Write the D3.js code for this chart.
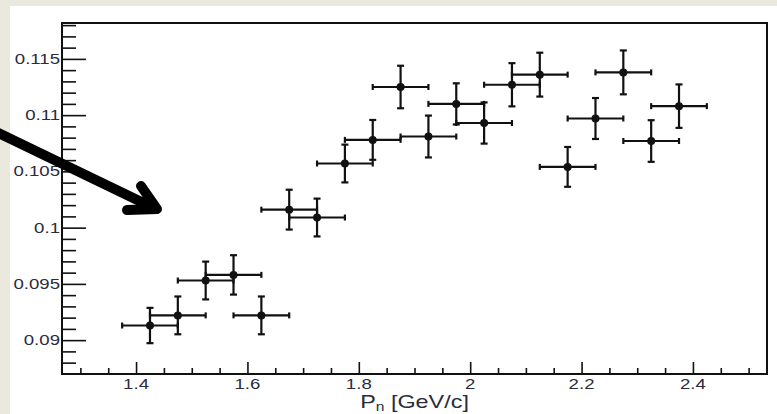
<!DOCTYPE html>
<html>
<head>
<meta charset="utf-8">
<script src="https://cdn.jsdelivr.net/npm/d3@7"></script>
<style>
  html, body { margin: 0; padding: 0; background: #ebe8de; }
  svg { display: block; }
</style>
</head>
<body>
<svg id="chart" width="777" height="414"></svg>
<script>
// Bin centres (GeV/c), half bin width, measured ratio and its uncertainty
const pn = [1.425, 1.475, 1.525, 1.575, 1.625, 1.675, 1.725, 1.775, 1.825, 1.875,
            1.925, 1.975, 2.025, 2.075, 2.125, 2.175, 2.225, 2.275, 2.325, 2.375];
const pnErr = 0.05;
const ratio = [0.0913, 0.0922, 0.0953, 0.0958, 0.0922, 0.1016, 0.1009, 0.1057, 0.1078, 0.1125,
               0.1081, 0.1110, 0.1093, 0.1127, 0.1136, 0.1054, 0.1097, 0.1138, 0.1077, 0.1108];
const ratioErr = [0.00157, 0.00168, 0.00168, 0.00175, 0.00168, 0.00177, 0.00168, 0.00168, 0.00177, 0.00189,
                  0.00186, 0.00183, 0.00183, 0.00192, 0.00195, 0.00177, 0.00182, 0.00195, 0.00185, 0.00193];

const xMajor = [1.4, 1.6, 1.8, 2.0, 2.2, 2.4];
const xLabels = ["1.4", "1.6", "1.8", "2", "2.2", "2.4"];
const yMajor = [0.09, 0.095, 0.1, 0.105, 0.11, 0.115];
const yLabels = ["0.09", "0.095", "0.1", "0.105", "0.11", "0.115"];
const xTitle = { main: "P", sub: "n", rest: " [GeV/c]" };

const svg = d3.select("#chart");
const frame = { left: 62, right: 767, top: 23, bottom: 374 };

// white pad behind the plot
svg.append("rect").attr("x", 10).attr("y", 6).attr("width", 777).attr("height", 414).attr("fill", "#ffffff");

const x = d3.scaleLinear().domain([1.267, 2.533]).range([frame.left, frame.right]);
const y = d3.scaleLinear().domain([0.08699, 0.11819]).range([frame.bottom, frame.top]);

const ink = "#111";
const labelInk = "#2b2b3c";

// x axis: major and minor ticks pointing up into the frame
const xMinor = d3.range(1.3, 2.5001, 0.05).filter(v => !xMajor.some(m => Math.abs(m - v) < 1e-6));
svg.append("g").attr("transform", `translate(0,${frame.bottom})`)
  .call(d3.axisBottom(x).tickValues(xMinor).tickSize(-6).tickFormat(""))
  .call(g => g.select(".domain").remove())
  .call(g => g.selectAll("line").attr("stroke", ink).attr("stroke-width", 1.6));
svg.append("g").attr("transform", `translate(0,${frame.bottom})`)
  .call(d3.axisBottom(x).tickValues(xMajor).tickSize(-12).tickFormat(""))
  .call(g => g.select(".domain").remove())
  .call(g => g.selectAll("line").attr("stroke", ink).attr("stroke-width", 1.6));

// y axis: major and minor ticks pointing right into the frame
const yMinor = d3.range(0.087, 0.1185, 0.001).filter(v => !yMajor.some(m => Math.abs(m - v) < 1e-7) && v > 0.0872);
svg.append("g").attr("transform", `translate(${frame.left},0)`)
  .call(d3.axisLeft(y).tickValues(yMinor).tickSize(-14).tickFormat(""))
  .call(g => g.select(".domain").remove())
  .call(g => g.selectAll("line").attr("stroke", ink).attr("stroke-width", 1.6));
svg.append("g").attr("transform", `translate(${frame.left},0)`)
  .call(d3.axisLeft(y).tickValues(yMajor).tickSize(-24).tickFormat(""))
  .call(g => g.select(".domain").remove())
  .call(g => g.selectAll("line").attr("stroke", ink).attr("stroke-width", 1.6));

// frame
svg.append("rect")
  .attr("x", frame.left).attr("y", frame.top)
  .attr("width", frame.right - frame.left).attr("height", frame.bottom - frame.top)
  .attr("fill", "none").attr("stroke", ink).attr("stroke-width", 2);

// tick labels (wide sans face)
const stretch = 1.33;
svg.append("g").selectAll("text").data(yMajor).join("text")
  .attr("transform", d => `translate(60,${y(d) + 5}) scale(${stretch},1)`)
  .attr("text-anchor", "end")
  .attr("font-family", "Liberation Sans, Arial, sans-serif")
  .attr("font-size", 14)
  .attr("fill", labelInk)
  .text((d, i) => yLabels[i]);

svg.append("g").selectAll("text").data(xMajor).join("text")
  .attr("transform", d => `translate(${x(d)},389) scale(${stretch},1)`)
  .attr("text-anchor", "middle")
  .attr("font-family", "Liberation Sans, Arial, sans-serif")
  .attr("font-size", 14)
  .attr("fill", labelInk)
  .text((d, i) => xLabels[i]);

// axis title
const title = svg.append("text")
  .attr("transform", `translate(${(frame.left + frame.right) / 2},408) scale(1.3,1)`)
  .attr("text-anchor", "middle")
  .attr("font-family", "Liberation Sans, Arial, sans-serif")
  .attr("font-size", 18)
  .attr("fill", labelInk);
title.append("tspan").text(xTitle.main);
title.append("tspan").attr("font-size", 12).attr("dy", 3).text(xTitle.sub);
title.append("tspan").attr("dy", -3).text(xTitle.rest);

// data points with x and y error bars
const pts = pn.map((v, i) => ({ x: v, y: ratio[i], ey: ratioErr[i] }));
const g = svg.append("g").attr("stroke", ink).attr("stroke-width", 2.2);
const hcap = 3, vcap = 3.5;
pts.forEach(p => {
  const cx = x(p.x), cy = y(p.y);
  const x0 = x(p.x - pnErr), x1 = x(p.x + pnErr);
  const y0 = y(p.y - p.ey), y1 = y(p.y + p.ey);
  g.append("line").attr("x1", x0).attr("x2", x1).attr("y1", cy).attr("y2", cy);
  g.append("line").attr("x1", cx).attr("x2", cx).attr("y1", y0).attr("y2", y1);
  g.append("line").attr("x1", x0).attr("x2", x0).attr("y1", cy - hcap).attr("y2", cy + hcap);
  g.append("line").attr("x1", x1).attr("x2", x1).attr("y1", cy - hcap).attr("y2", cy + hcap);
  g.append("line").attr("x1", cx - vcap).attr("x2", cx + vcap).attr("y1", y0).attr("y2", y0);
  g.append("line").attr("x1", cx - vcap).attr("x2", cx + vcap).attr("y1", y1).attr("y2", y1);
});
svg.append("g").selectAll("circle").data(pts).join("circle")
  .attr("cx", d => x(d.x)).attr("cy", d => y(d.y)).attr("r", 4).attr("fill", ink);

// pointer arrow annotation
const arrow = svg.append("g").attr("stroke", "#000").attr("stroke-width", 10)
  .attr("stroke-linecap", "round").attr("stroke-linejoin", "round").attr("fill", "none");
arrow.append("line").attr("x1", -10).attr("y1", 129).attr("x2", 156).attr("y2", 209);
arrow.append("polyline").attr("points", "141,186 157,209 127,210");
</script>
</body>
</html>
